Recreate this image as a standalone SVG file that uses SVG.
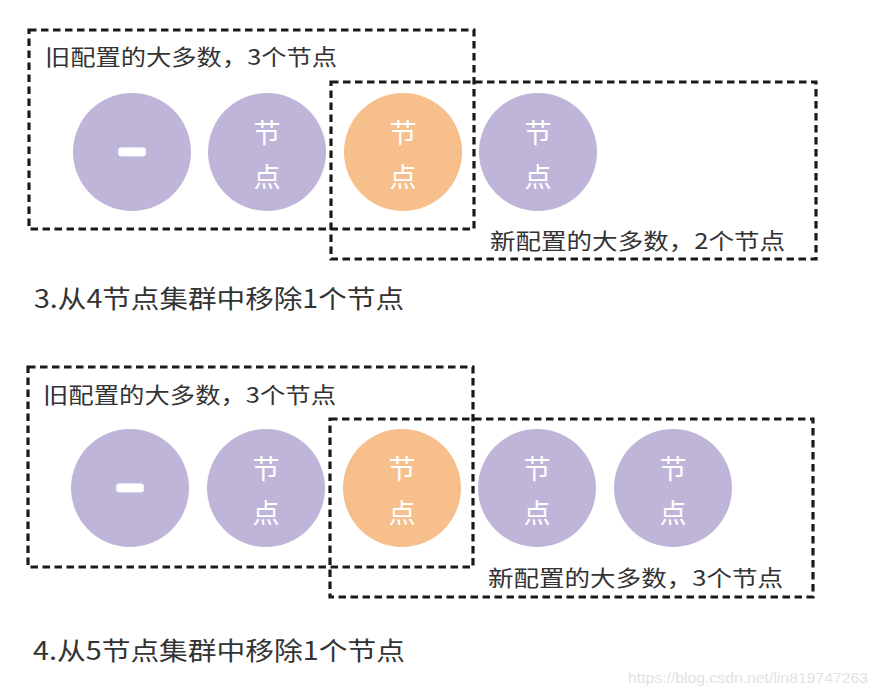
<svg xmlns="http://www.w3.org/2000/svg" width="879" height="695" viewBox="0 0 879 695">
<style>
.box{fill:none;stroke:#1a1a1a;stroke-width:3.2;stroke-dasharray:7.5 4.5}
.p{fill:#bfb5d9}
.o{fill:#f6bf8c}
.nt{font-family:"Noto Sans CJK SC","Noto Sans",sans-serif;font-size:27px;fill:#ffffff;text-anchor:middle;dominant-baseline:central}
.one{font-family:"Noto Sans CJK SC",sans-serif;font-size:24px;font-weight:900;fill:#ffffff;stroke:#ffffff;stroke-width:5;stroke-linejoin:round;text-anchor:middle;dominant-baseline:central}
.lbl{font-family:"Noto Sans CJK SC","Noto Sans",sans-serif;font-size:22px;fill:#333333}
.ttl{font-family:"Noto Sans CJK SC","Noto Sans",sans-serif;font-size:25px;fill:#333333}
.wm{font-family:"Liberation Sans",Arial,sans-serif;font-size:15px;fill:#e2e2e2}
</style>
<rect width="879" height="695" fill="#ffffff"/>

<!-- Section 3 -->
<g id="s3-old-group">
<rect class="box" x="29" y="30" width="445" height="199"/>
<text class="lbl" x="45" y="65" textLength="292" lengthAdjust="spacingAndGlyphs">旧配置的大多数，3个节点</text>
</g>
<g id="s3-new-group">
<rect class="box" x="331" y="82" width="485" height="177"/>
<text class="lbl" x="490" y="249" textLength="295" lengthAdjust="spacingAndGlyphs">新配置的大多数，2个节点</text>
</g>
<g id="s3-n1"><circle class="p" cx="132" cy="152" r="59"/><text class="one" x="132" y="150">一</text></g>
<g id="s3-n2"><circle class="p" cx="267" cy="152" r="59"/><text class="nt" x="267" y="131">节</text><text class="nt" x="267" y="175">点</text></g>
<g id="s3-n3"><circle class="o" cx="403" cy="152" r="59"/><text class="nt" x="403" y="131">节</text><text class="nt" x="403" y="175">点</text></g>
<g id="s3-n4"><circle class="p" cx="538" cy="152" r="59"/><text class="nt" x="538" y="131">节</text><text class="nt" x="538" y="175">点</text></g>
<text class="ttl" x="34" y="308" textLength="370" lengthAdjust="spacingAndGlyphs">3.从4节点集群中移除1个节点</text>

<!-- Section 4 -->
<g id="s4-old-group">
<rect class="box" x="28" y="367" width="445" height="200"/>
<text class="lbl" x="43" y="403" textLength="293" lengthAdjust="spacingAndGlyphs">旧配置的大多数，3个节点</text>
</g>
<g id="s4-new-group">
<rect class="box" x="330" y="419" width="483" height="178"/>
<text class="lbl" x="488" y="586" textLength="295" lengthAdjust="spacingAndGlyphs">新配置的大多数，3个节点</text>
</g>
<g id="s4-n1"><circle class="p" cx="130" cy="488" r="59"/><text class="one" x="130" y="486">一</text></g>
<g id="s4-n2"><circle class="p" cx="266" cy="488" r="59"/><text class="nt" x="266" y="467">节</text><text class="nt" x="266" y="511">点</text></g>
<g id="s4-n3"><circle class="o" cx="402" cy="488" r="59"/><text class="nt" x="402" y="467">节</text><text class="nt" x="402" y="511">点</text></g>
<g id="s4-n4"><circle class="p" cx="537" cy="488" r="59"/><text class="nt" x="537" y="467">节</text><text class="nt" x="537" y="511">点</text></g>
<g id="s4-n5"><circle class="p" cx="673" cy="488" r="59"/><text class="nt" x="673" y="467">节</text><text class="nt" x="673" y="511">点</text></g>
<text class="ttl" x="33" y="660" textLength="372" lengthAdjust="spacingAndGlyphs">4.从5节点集群中移除1个节点</text>

<g id="connectors"/>

<text class="wm" x="628" y="683" textLength="240" lengthAdjust="spacingAndGlyphs">https://blog.csdn.net/lin819747263</text>
</svg>
